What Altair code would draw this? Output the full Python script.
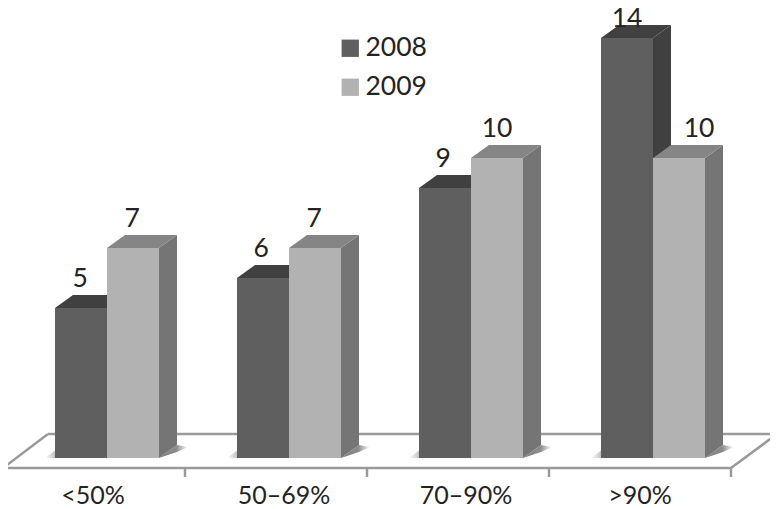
import altair as alt
import pandas as pd

categories = ["<50%", "50–69%", "70–90%", ">90%"]
values_2008 = [5, 6, 9, 14]
values_2009 = [7, 7, 10, 10]
series = ["2008", "2009"]
# per-label horizontal nudges, in group-pitch units
value_label_nudge_2008 = [-0.005, -0.01, -0.01, 0.0]
value_label_nudge_2009 = [-0.005, -0.005, 0.0, 0.11]
# per-label lift above the bar top, in count units
value_label_lift_2008 = [0.7, 0.7, 0.7, 0.37]
value_label_lift_2009 = [0.7, 0.7, 0.7, 0.7]
category_label_x = [-0.077, 0.973, 1.973, 2.929]

# Scene geometry in data units (x: 1 = one group, y: 1 = one count)
BAR_W = 52 / 182
DX = 18 / 182
DY = 13 / 30
FLOOR_FRONT = -10 / 30
FLOOR_BACK = 24 / 30
FLOOR_FL, FLOOR_FR = -104 / 182, 624 / 182
FLOOR_BL, FLOOR_BR = -59 / 182, 670 / 182
TICK_END = -19 / 30
CAT_BASE = -45.5 / 30
FONT = "Lato"
TEXT = "#232323"

bars = []
for i, (a, b) in enumerate(zip(values_2008, values_2009)):
    bars.append(dict(id=f"a{i}", group=i, series="2008", v=a, x0=i - BAR_W, x1=i,
                     nudge=value_label_nudge_2008[i], lift=value_label_lift_2008[i]))
    bars.append(dict(id=f"b{i}", group=i, series="2009", v=b, x0=i, x1=i + BAR_W,
                     nudge=value_label_nudge_2009[i], lift=value_label_lift_2009[i]))

side, top, shadow_r, shadow_l = [], [], [], []
for b in bars:
    side += [dict(id=b["id"], series=b["series"], x=b["x1"], y=b["v"], y2=0),
             dict(id=b["id"], series=b["series"], x=b["x1"] + DX, y=b["v"] + DY, y2=DY)]
    top += [dict(id=b["id"], series=b["series"], y=b["v"], x=b["x0"], x2=b["x1"]),
            dict(id=b["id"], series=b["series"], y=b["v"] + DY, x=b["x0"] + DX, x2=b["x1"] + DX)]
for i in range(4):
    r = i + BAR_W
    shadow_r += [dict(id=i, x=r, y=0.0, y2=0.0),
                 dict(id=i, x=r + DX, y=DY, y2=0.2),
                 dict(id=i, x=r + 29 / 182, y=0.37, y2=0.37)]
    l = i - BAR_W
    shadow_l += [dict(id=i, x=l - 10 / 182, y=0.0, y2=0.0),
                 dict(id=i, x=l, y=0.25, y2=0.0)]

df_bars = pd.DataFrame(bars)
df_side = pd.DataFrame(side)
df_top = pd.DataFrame(top)
df_sr = pd.DataFrame(shadow_r)
df_sl = pd.DataFrame(shadow_l)
df_cat = pd.DataFrame(dict(cat=categories, x=category_label_x, y=[CAT_BASE] * 4))
df_floor = pd.DataFrame(dict(
    o=[0, 1, 2, 3, 4],
    x=[FLOOR_BL, FLOOR_BR, FLOOR_FR, FLOOR_FL, FLOOR_BL],
    y=[FLOOR_BACK, FLOOR_BACK, FLOOR_FRONT, FLOOR_FRONT, FLOOR_BACK]))
df_ticks = pd.DataFrame(dict(x=[FLOOR_FL + k for k in range(5)], y=[FLOOR_FRONT] * 5, y2=[TICK_END] * 5))

xs = alt.Scale(domain=[-99 / 182, 663 / 182], nice=False, zero=False)
ys = alt.Scale(domain=[-1.7, 15], nice=False, zero=False)
X = alt.X("x:Q", scale=xs, axis=None)
Y = alt.Y("y:Q", scale=ys, axis=None)

def faces(kind, s, color):
    src = df_side if kind == "side" else df_top
    d = src[src.series == s]
    if kind == "side":
        return alt.Chart(d).mark_area(color=color, opacity=1).encode(
            x=X, y=Y, y2="y2:Q", detail="id:N")
    return alt.Chart(d).mark_area(color=color, opacity=1, orient="horizontal").encode(
        y=Y, x=X, x2="x2:Q", detail="id:N")

def fronts(s):
    return alt.Chart(df_bars[df_bars.series == s]).mark_rect().encode(
        x=alt.X("x0:Q", scale=xs, axis=None), x2="x1:Q",
        y=alt.Y("v:Q", scale=ys, axis=None), y2=alt.datum(0),
        color=alt.Color("series:N",
                        scale=alt.Scale(domain=series, range=["#5f5f5f", "#b2b2b2"]),
                        legend=alt.Legend(title=None, orient="none", legendX=329, legendY=27,
                                          symbolType="square", symbolSize=300, symbolOpacity=1,
                                          symbolStrokeWidth=0, labelFont=FONT, labelFontSize=26.5,
                                          labelColor=TEXT, labelOffset=2, rowPadding=12)))

floor = alt.Chart(df_floor).mark_line(color="#9a9a9a", strokeWidth=2.5).encode(
    x=X, y=Y, order="o:Q")
ticks = alt.Chart(df_ticks).mark_rule(color="#9a9a9a", strokeWidth=2.5).encode(x=X, y=Y, y2="y2:Q")
shade_r = alt.Chart(df_sr).mark_area(
    opacity=1,
    color=alt.Gradient(gradient="linear", x1=0, x2=1, y1=0, y2=0,
                       stops=[alt.GradientStop(offset=0, color="#808080"),
                              alt.GradientStop(offset=0.6, color="#8c8c8c"),
                              alt.GradientStop(offset=1, color="#ffffff")])
).encode(x=X, y=Y, y2="y2:Q", detail="id:N")
shade_l = alt.Chart(df_sl).mark_area(
    opacity=1,
    color=alt.Gradient(gradient="linear", x1=0, x2=1, y1=0, y2=0,
                       stops=[alt.GradientStop(offset=0, color="#ffffff"),
                              alt.GradientStop(offset=1, color="#c4c4c4")])
).encode(x=X, y=Y, y2="y2:Q", detail="id:N")

val_text = alt.Chart(df_bars).transform_calculate(
    cx="(datum.x0 + datum.x1) / 2 + datum.nudge",
    ty="datum.v + datum.lift"
).mark_text(font=FONT, fontSize=26.5, color=TEXT, baseline="alphabetic", align="center").encode(
    x=alt.X("cx:Q", scale=xs, axis=None),
    y=alt.Y("ty:Q", scale=ys, axis=None),
    text="v:Q")
cat_text = alt.Chart(df_cat).mark_text(font=FONT, fontSize=25, color=TEXT, baseline="alphabetic", align="center").encode(
    x=X, y=Y, text="cat:N")

chart = alt.layer(
    floor, ticks, shade_r, shade_l,
    faces("side", "2008", "#404040"), faces("top", "2008", "#404040"), fronts("2008"),
    faces("side", "2009", "#757575"), faces("top", "2009", "#858585"), fronts("2009"),
    val_text, cat_text,
).properties(
    width=762, height=501, padding=0,
    autosize=alt.AutoSizeParams(type="none"),
).configure_view(stroke=None)

chart.save("out.html", embed_options={"renderer": "svg", "actions": False})
